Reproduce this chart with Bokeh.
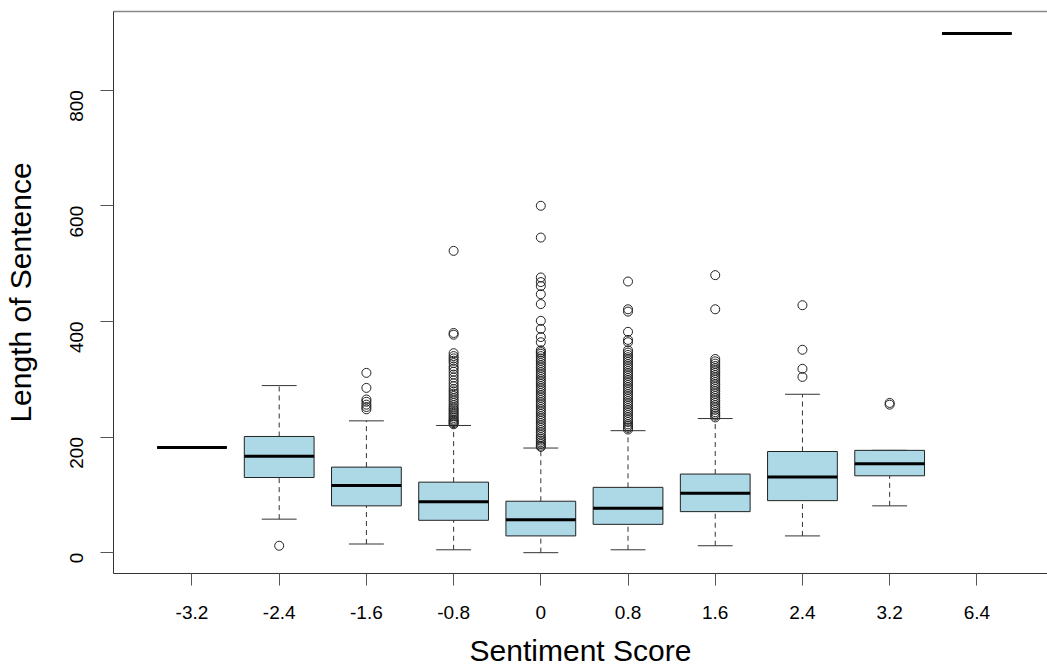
import math
from bokeh.plotting import figure
from bokeh.models import Range1d, FixedTicker, LinearAxis, ColumnDataSource
from bokeh.embed import file_html
from bokeh.resources import INLINE

# ---- data ----
categories = ["-3.2", "-2.4", "-1.6", "-0.8", "0", "0.8", "1.6", "2.4", "3.2", "6.4"]
lower_whisker = [182, 58, 15, 5, 0, 5, 12, 29, 81, 898]
q1 = [182, 130, 81, 56, 29, 49, 71, 90, 133, 898]
median = [182, 167, 116, 88, 57, 77, 103, 131, 154, 898]
q3 = [182, 201, 148, 122, 89, 113, 136, 175, 177, 898]
upper_whisker = [182, 289, 228, 220, 181, 211, 232, 274, 177, 898]

out_m32 = []
out_m24 = [12]
out_m16 = [248, 252, 256, 261, 265, 285, 311]
out_m08 = [522, 380, 377, 345, 340, 336, 332, 328, 322, 318, 313, 308, 303, 298, 293,
           288, 283, 279, 275, 271, 267, 263, 259, 255, 251, 248, 245, 242, 239, 236,
           233, 230, 228, 226, 224, 222]
out_0 = [600, 545, 476, 468, 461, 447, 430, 401, 387, 373, 364, 350, 347, 344, 340,
         336, 332, 328, 324, 320, 316, 312, 308, 304, 300, 296, 292, 288, 284, 280,
         276, 272, 268, 264, 260, 256, 252, 248, 244, 240, 236, 232, 228, 224, 220,
         216, 212, 208, 204, 200, 197, 194, 191, 188, 185, 183]
out_p08 = [469, 421, 417, 382, 368, 364, 350, 346, 342, 338, 334, 330, 326, 322, 318,
           314, 310, 306, 302, 298, 294, 290, 286, 282, 278, 274, 270, 266, 262, 258,
           254, 250, 246, 242, 238, 234, 230, 226, 222, 219, 216, 213]
out_p16 = [480, 421, 335, 331, 327, 323, 319, 315, 311, 307, 303, 299, 295, 291, 287,
           283, 279, 275, 271, 267, 263, 259, 255, 251, 247, 243, 240, 237, 234]
out_p24 = [428, 351, 318, 304]
out_p32 = [256, 259]
out_p64 = []
outlier_groups = [out_m32, out_m24, out_m16, out_m08, out_0, out_p08, out_p16,
                  out_p24, out_p32, out_p64]

y_ticks = [0, 200, 400, 600, 800]
x_title = "Sentiment Score"
y_title = "Length of Sentence"

# ---- derived sources ----
BOX_W = 0.8
CAP_W = 0.4
xs = [i + 1 for i in range(len(categories))]
box_src = ColumnDataSource(dict(
    x=xs,
    left=[x - BOX_W / 2 for x in xs],
    right=[x + BOX_W / 2 for x in xs],
    capl=[x - CAP_W / 2 for x in xs],
    capr=[x + CAP_W / 2 for x in xs],
    lo=lower_whisker, q1=q1, med=median, q3=q3, hi=upper_whisker,
))
ox, oy = [], []
for x, grp in zip(xs, outlier_groups):
    for v in grp:
        ox.append(x)
        oy.append(v)
out_src = ColumnDataSource(dict(x=ox, y=oy))

FONT = "Liberation Sans"

p = figure(width=1047, height=671, output_backend="svg", toolbar_location=None,
           x_range=Range1d(0.1, 10.81), y_range=Range1d(-36, 936),
           min_border_left=113, min_border_right=0, min_border_top=11,
           min_border_bottom=98, x_axis_label=x_title, y_axis_label=y_title)
p.background_fill_color = "white"
p.border_fill_color = "white"
p.outline_line_color = None
p.xgrid.visible = False
p.ygrid.visible = False

# whiskers (dashed)
p.segment(x0="x", x1="x", y0="q3", y1="hi", source=box_src, line_color="#333333",
          line_width=1, line_dash="5 4")
p.segment(x0="x", x1="x", y0="lo", y1="q1", source=box_src, line_color="#333333",
          line_width=1, line_dash="5 4")
# staples
p.segment(x0="capl", x1="capr", y0="hi", y1="hi", source=box_src, line_color="#333333",
          line_width=1)
p.segment(x0="capl", x1="capr", y0="lo", y1="lo", source=box_src, line_color="#333333",
          line_width=1)
# boxes
p.quad(left="left", right="right", bottom="q1", top="q3", source=box_src,
       fill_color="#ADD8E6", line_color="#222222", line_width=1)
# medians
p.segment(x0="left", x1="right", y0="med", y1="med", source=box_src,
          line_color="black", line_width=3)
# outliers
p.scatter(x="x", y="y", source=out_src, marker="circle", size=9,
          fill_color=None, line_color="#222222", line_width=1)

# x axis
xa = p.xaxis[0]
xa.ticker = FixedTicker(ticks=xs)
xa.major_label_overrides = {x: c for x, c in zip(xs, categories)}
xa.major_tick_out = 12
xa.major_tick_in = 0
xa.minor_tick_out = 0
xa.minor_tick_in = 0
xa.major_label_standoff = 20
xa.axis_label_standoff = 12
xa.major_label_text_font = FONT
xa.major_label_text_font_size = "19px"
xa.major_label_text_color = "black"
xa.axis_label_text_font = FONT
xa.axis_label_text_font_size = "30px"
xa.axis_label_text_font_style = "normal"
xa.axis_label_text_color = "black"
xa.axis_line_color = "#333333"
xa.major_tick_line_color = "#555555"

# y axis
ya = p.yaxis[0]
ya.ticker = FixedTicker(ticks=y_ticks)
ya.major_tick_out = 13
ya.major_tick_in = 0
ya.minor_tick_out = 0
ya.minor_tick_in = 0
ya.major_label_orientation = math.pi / 2
ya.major_label_standoff = 24
ya.axis_label_standoff = 24
ya.major_label_text_font = FONT
ya.major_label_text_font_size = "19px"
ya.major_label_text_color = "black"
ya.axis_label_text_font = FONT
ya.axis_label_text_font_size = "30px"
ya.axis_label_text_font_style = "normal"
ya.axis_label_text_color = "black"
ya.axis_line_color = "#333333"
ya.major_tick_line_color = "#555555"

# top frame line
top = LinearAxis(ticker=FixedTicker(ticks=[]), major_label_text_font_size="0px",
                 major_tick_out=0, major_tick_in=0, minor_tick_out=0, minor_tick_in=0,
                 axis_line_color="#888888", axis_line_width=1.5)
p.add_layout(top, "above")

open("out.html", "w").write(file_html(p, INLINE))
